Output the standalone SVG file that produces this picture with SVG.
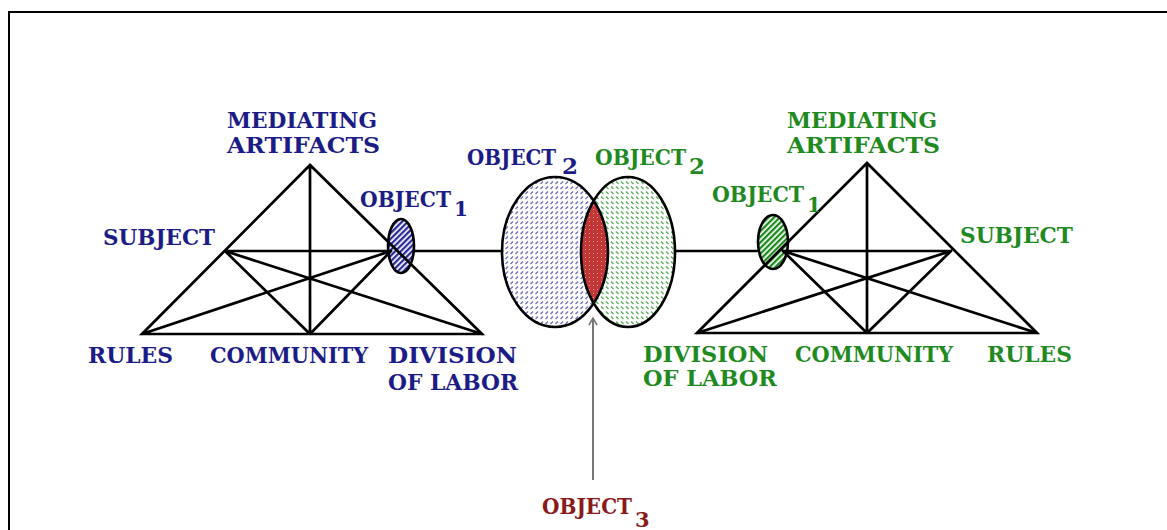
<svg xmlns="http://www.w3.org/2000/svg" width="1167" height="530" viewBox="0 0 1167 530">
<style>
.t{font-family:"DejaVu Serif","Liberation Serif",serif;font-size:22px;font-weight:bold}
.b{fill:#1c1c86}
.g{fill:#1f8a1f}
.r{fill:#8a1a1a}
.sub{font-size:20px}
.big{font-size:23px}
.ln{stroke:#000;stroke-width:2.7;fill:none;stroke-linecap:round}
.ol{stroke:#000;stroke-width:2.6}
</style>
<defs>
<pattern id="hb" width="4" height="4" patternUnits="userSpaceOnUse" patternTransform="rotate(-45)">
<rect width="4" height="4" fill="#fff"/><rect width="4" height="2.3" fill="#2a2a9a"/>
</pattern>
<pattern id="hg" width="4" height="4" patternUnits="userSpaceOnUse" patternTransform="rotate(-45)">
<rect width="4" height="4" fill="#fff"/><rect width="4" height="2.3" fill="#1c8a1c"/>
</pattern>
<pattern id="db" width="5" height="5" patternUnits="userSpaceOnUse">
<rect width="5" height="5" fill="#fff"/><path d="M0.5,4 L3,1.5" stroke="#6a6abc" stroke-width="1.3"/>
</pattern>
<pattern id="dg" width="5" height="5" patternUnits="userSpaceOnUse">
<rect width="5" height="5" fill="#fff"/><path d="M1,1.5 L3.5,4" stroke="#55ac55" stroke-width="1.3"/>
</pattern>
<pattern id="dr" width="4" height="4" patternUnits="userSpaceOnUse">
<rect width="4" height="4" fill="#c33636"/><rect x="1" y="1" width="1" height="1" fill="#e8a0a0"/>
</pattern>
<clipPath id="cb"><ellipse cx="555" cy="252" rx="53" ry="75"/></clipPath>
</defs>
<rect x="0" y="0" width="1167" height="530" fill="#fff"/>
<rect x="9" y="12" width="1200" height="600" fill="none" stroke="#000" stroke-width="2"/>

<g id="object2-blue">
<ellipse cx="555" cy="252" rx="53" ry="75" fill="url(#db)"/>
</g>
<g id="object2-green">
<ellipse cx="628" cy="252" rx="47" ry="75" fill="url(#dg)"/>
</g>
<g id="object3-lens">
<ellipse cx="628" cy="252" rx="47" ry="75" fill="url(#dr)" clip-path="url(#cb)"/>
</g>
<g id="outlines">
<ellipse cx="555" cy="252" rx="53" ry="75" fill="none" class="ol"/>
<ellipse cx="628" cy="252" rx="47" ry="75" fill="none" class="ol"/>
</g>
<g id="object1-blue">
<ellipse cx="401" cy="246" rx="13" ry="27" fill="url(#hb)" class="ol"/>
</g>
<g id="object1-green">
<ellipse cx="773" cy="242" rx="15" ry="27" fill="url(#hg)" class="ol"/>
</g>

<g id="connectors">
<path class="ln" d="M310,165 L142,334 L482,334 Z M310,165 L310,334 M225,251 L391,251 M225,251 L310,334 M225,251 L482,334 M391,251 L142,334 M391,251 L310,334 M414,251 L502,251"/>
<path class="ln" d="M867,163 L697,333 L1037,333 Z M867,163 L867,333 M783,251 L951,251 M951,251 L867,333 M951,251 L697,333 M783,251 L1037,333 M783,251 L867,333 M675,251 L757,251"/>
<path d="M593,320 L593,480" stroke="#777" stroke-width="2" fill="none"/>
<path d="M589,325 L593,318 L597,325" stroke="#777" stroke-width="1.6" fill="none"/>
</g>

<g id="label-left-mediating">
<text class="t b" x="227" y="128" textLength="150" lengthAdjust="spacingAndGlyphs">MEDIATING</text>
<text class="t b" x="227" y="153" textLength="153" lengthAdjust="spacingAndGlyphs">ARTIFACTS</text>
</g>
<g id="label-left-subject"><text class="t b" x="103" y="245" textLength="112" lengthAdjust="spacingAndGlyphs">SUBJECT</text></g>
<g id="label-left-object1"><text class="t b" x="360" y="207"><tspan textLength="91" lengthAdjust="spacingAndGlyphs">OBJECT</tspan><tspan class="sub" x="454" y="216">1</tspan></text></g>
<g id="label-left-rules"><text class="t b" x="88" y="363" textLength="85" lengthAdjust="spacingAndGlyphs">RULES</text></g>
<g id="label-left-community"><text class="t b" x="210" y="363" textLength="158" lengthAdjust="spacingAndGlyphs">COMMUNITY</text></g>
<g id="label-left-division">
<text class="t b" x="388" y="363" textLength="129" lengthAdjust="spacingAndGlyphs">DIVISION</text>
<text class="t b" x="388" y="390" textLength="130" lengthAdjust="spacingAndGlyphs">OF LABOR</text>
</g>
<g id="label-object2-blue"><text class="t b" x="467" y="165"><tspan textLength="89" lengthAdjust="spacingAndGlyphs">OBJECT</tspan><tspan class="big" x="562" y="174">2</tspan></text></g>
<g id="label-object2-green"><text class="t g" x="595" y="165"><tspan textLength="91" lengthAdjust="spacingAndGlyphs">OBJECT</tspan><tspan class="big" x="689" y="174">2</tspan></text></g>

<g id="label-right-mediating">
<text class="t g" x="787" y="128" textLength="150" lengthAdjust="spacingAndGlyphs">MEDIATING</text>
<text class="t g" x="787" y="153" textLength="153" lengthAdjust="spacingAndGlyphs">ARTIFACTS</text>
</g>
<g id="label-right-object1"><text class="t g" x="712" y="202"><tspan textLength="92" lengthAdjust="spacingAndGlyphs">OBJECT</tspan><tspan class="sub" x="807" y="212">1</tspan></text></g>
<g id="label-right-subject"><text class="t g" x="960" y="243" textLength="113" lengthAdjust="spacingAndGlyphs">SUBJECT</text></g>
<g id="label-right-division">
<text class="t g" x="643" y="362" textLength="125" lengthAdjust="spacingAndGlyphs">DIVISION</text>
<text class="t g" x="643" y="386" textLength="134" lengthAdjust="spacingAndGlyphs">OF LABOR</text>
</g>
<g id="label-right-community"><text class="t g" x="795" y="362" textLength="158" lengthAdjust="spacingAndGlyphs">COMMUNITY</text></g>
<g id="label-right-rules"><text class="t g" x="987" y="362" textLength="85" lengthAdjust="spacingAndGlyphs">RULES</text></g>

<g id="label-object3"><text class="t r" x="542" y="514"><tspan textLength="90" lengthAdjust="spacingAndGlyphs">OBJECT</tspan><tspan x="635" y="527" style="font-size:21px">3</tspan></text></g>
</svg>
